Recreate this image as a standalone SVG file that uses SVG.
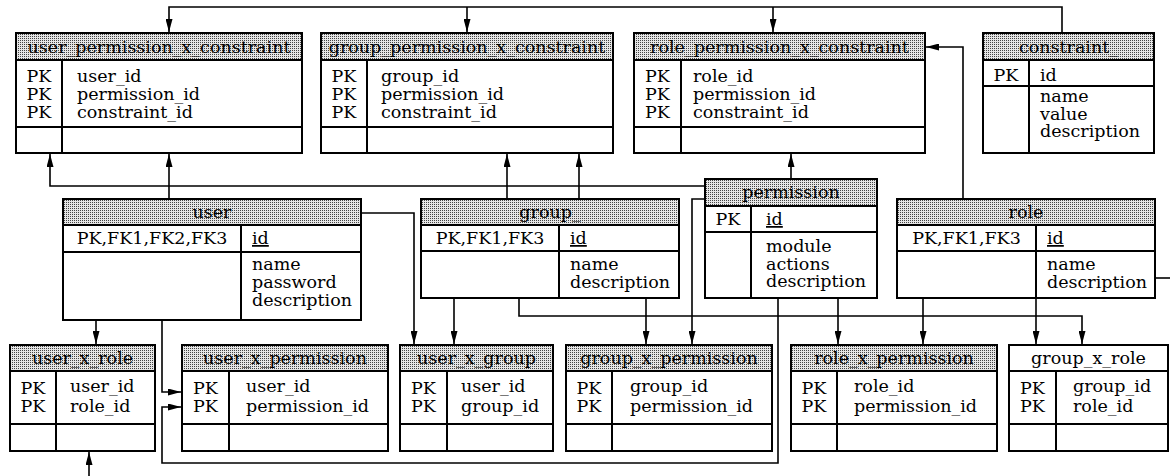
<svg xmlns="http://www.w3.org/2000/svg" width="1170" height="476" viewBox="0 0 1170 476">
<style>
.t{font-family:"DejaVu Serif","Liberation Serif",serif;font-size:17.5px;fill:#000}
.c{text-anchor:middle}
.box{fill:#fff;stroke:#000;stroke-width:2}
.hd{fill:url(#dots);stroke:#000;stroke-width:2}
.ln{stroke:#000;stroke-width:2;fill:none}
.cn{stroke:#000;stroke-width:1.6;fill:none}
.ar{marker-end:url(#ah)}
.u{text-decoration:underline}
</style>
<defs>
<pattern id="dots" width="2" height="2" patternUnits="userSpaceOnUse"><rect width="2" height="2" fill="#e6e6e6"/><rect width="1" height="1" fill="#444"/></pattern>
<marker id="ah" viewBox="0 0 13 7" refX="13" refY="3.5" markerWidth="13" markerHeight="7" markerUnits="userSpaceOnUse" orient="auto"><path d="M0,0L13,3.5L0,7z" fill="#000"/></marker>
</defs>
<rect width="1170" height="476" fill="#fff"/>

<g id="connectors">
<path class="cn ar" d="M1062,33V7H169V32"/>
<path class="cn ar" d="M467,7V32"/>
<path class="cn ar" d="M773,7V32"/>
<path class="cn ar" d="M169,199V154"/>
<path class="cn ar" d="M705,186H50V154"/>
<path class="cn ar" d="M507,199V154"/>
<path class="cn ar" d="M579,199V154"/>
<path class="cn ar" d="M791,179V154"/>
<path class="cn ar" d="M963,199V47H926"/>
<path class="cn ar" d="M96,320V344"/>
<path class="cn ar" d="M162,320V392H181"/>
<path class="cn ar" d="M778,298V463H162V407H181"/>
<path class="cn" d="M1155,278H1170"/>
<path class="cn ar" d="M89,476V452"/>
<path class="cn ar" d="M361,213H414V344"/>
<path class="cn ar" d="M454,298V344"/>
<path class="cn ar" d="M646,298V344"/>
<path class="cn ar" d="M705,199H692V344"/>
<path class="cn ar" d="M519,298V316H1082V344"/>
<path class="cn ar" d="M838,298V344"/>
<path class="cn ar" d="M923,298V344"/>
<path class="cn ar" d="M1036,298V344"/>
</g>

<g id="user_permission_x_constraint">
<rect class="hd" x="16" y="33" width="286" height="27"/>
<rect class="box" x="16" y="60" width="286" height="93"/>
<path class="ln" d="M16,127H302M62,60V153"/>
<text class="t c" x="159" y="53">user_permission_x_constraint</text>
<text class="t c" x="39" y="82"><tspan x="39">PK</tspan><tspan x="39" dy="18">PK</tspan><tspan x="39" dy="18">PK</tspan></text>
<text class="t" x="77" y="82"><tspan x="77">user_id</tspan><tspan x="77" dy="18">permission_id</tspan><tspan x="77" dy="18">constraint_id</tspan></text>
</g>

<g id="group_permission_x_constraint">
<rect class="hd" x="321" y="33" width="292" height="27"/>
<rect class="box" x="321" y="60" width="292" height="93"/>
<path class="ln" d="M321,127H613M367,60V153"/>
<text class="t c" x="467" y="53">group_permission_x_constraint</text>
<text class="t c" x="344" y="82"><tspan x="344">PK</tspan><tspan x="344" dy="18">PK</tspan><tspan x="344" dy="18">PK</tspan></text>
<text class="t" x="381" y="82"><tspan x="381">group_id</tspan><tspan x="381" dy="18">permission_id</tspan><tspan x="381" dy="18">constraint_id</tspan></text>
</g>

<g id="role_permission_x_constraint">
<rect class="hd" x="634" y="33" width="291" height="27"/>
<rect class="box" x="634" y="60" width="291" height="93"/>
<path class="ln" d="M634,127H925M681,60V153"/>
<text class="t c" x="779.5" y="53">role_permission_x_constraint</text>
<text class="t c" x="657.5" y="82"><tspan x="657.5">PK</tspan><tspan x="657.5" dy="18">PK</tspan><tspan x="657.5" dy="18">PK</tspan></text>
<text class="t" x="693" y="82"><tspan x="693">role_id</tspan><tspan x="693" dy="18">permission_id</tspan><tspan x="693" dy="18">constraint_id</tspan></text>
</g>

<g id="constraint_">
<rect class="hd" x="983" y="33" width="171" height="27"/>
<rect class="box" x="983" y="60" width="171" height="93"/>
<path class="ln" d="M983,86H1154M1029,60V153"/>
<text class="t c" x="1068.5" y="53">constraint_</text>
<text class="t c" x="1006" y="81">PK</text>
<text class="t" x="1040" y="81">id</text>
<text class="t" x="1040" y="102"><tspan x="1040">name</tspan><tspan x="1040" dy="17.5">value</tspan><tspan x="1040" dy="17.5">description</tspan></text>
</g>

<g id="user">
<rect class="hd" x="63" y="199" width="298" height="26"/>
<rect class="box" x="63" y="225" width="298" height="95"/>
<path class="ln" d="M63,252H361M241,225V320"/>
<text class="t c" x="212" y="218">user</text>
<text class="t c" x="152" y="244">PK,FK1,FK2,FK3</text>
<text class="t u" x="252" y="244">id</text>
<text class="t" x="252" y="270"><tspan x="252">name</tspan><tspan x="252" dy="18">password</tspan><tspan x="252" dy="18">description</tspan></text>
</g>

<g id="group_">
<rect class="hd" x="421" y="199" width="258" height="26"/>
<rect class="box" x="421" y="225" width="258" height="73"/>
<path class="ln" d="M421,251H679M559,225V298"/>
<text class="t c" x="550" y="218">group_</text>
<text class="t c" x="490" y="244">PK,FK1,FK3</text>
<text class="t u" x="570" y="244">id</text>
<text class="t" x="570" y="270"><tspan x="570">name</tspan><tspan x="570" dy="17.5">description</tspan></text>
</g>

<g id="permission">
<rect class="hd" x="705" y="179" width="172" height="27"/>
<rect class="box" x="705" y="206" width="172" height="92"/>
<path class="ln" d="M705,232H877M751,206V298"/>
<text class="t c" x="791" y="198">permission</text>
<text class="t c" x="728" y="225">PK</text>
<text class="t u" x="766" y="225">id</text>
<text class="t" x="766" y="252"><tspan x="766">module</tspan><tspan x="766" dy="17.5">actions</tspan><tspan x="766" dy="17.5">description</tspan></text>
</g>

<g id="role">
<rect class="hd" x="897" y="199" width="258" height="26"/>
<rect class="box" x="897" y="225" width="258" height="73"/>
<path class="ln" d="M897,251H1155M1036,225V298"/>
<text class="t c" x="1026" y="218">role</text>
<text class="t c" x="966.5" y="244">PK,FK1,FK3</text>
<text class="t u" x="1047" y="244">id</text>
<text class="t" x="1047" y="270"><tspan x="1047">name</tspan><tspan x="1047" dy="17.5">description</tspan></text>
</g>

<g id="user_x_role">
<rect class="hd" x="10" y="345" width="145" height="26"/>
<rect class="box" x="10" y="371" width="145" height="80"/>
<path class="ln" d="M10,424H155M56,371V451"/>
<text class="t c" x="82.5" y="364">user_x_role</text>
<text class="t c" x="33" y="394"><tspan x="33">PK</tspan><tspan x="33" dy="18">PK</tspan></text>
<text class="t" x="70" y="392"><tspan x="70">user_id</tspan><tspan x="70" dy="20">role_id</tspan></text>
</g>

<g id="user_x_permission">
<rect class="hd" x="182" y="345" width="206" height="26"/>
<rect class="box" x="182" y="371" width="206" height="80"/>
<path class="ln" d="M182,424H388M229,371V451"/>
<text class="t c" x="285" y="364">user_x_permission</text>
<text class="t c" x="205.5" y="394"><tspan x="205.5">PK</tspan><tspan x="205.5" dy="18">PK</tspan></text>
<text class="t" x="246" y="392"><tspan x="246">user_id</tspan><tspan x="246" dy="20">permission_id</tspan></text>
</g>

<g id="user_x_group">
<rect class="hd" x="400" y="345" width="153" height="26"/>
<rect class="box" x="400" y="371" width="153" height="80"/>
<path class="ln" d="M400,424H553M447,371V451"/>
<text class="t c" x="476.5" y="364">user_x_group</text>
<text class="t c" x="423.5" y="394"><tspan x="423.5">PK</tspan><tspan x="423.5" dy="18">PK</tspan></text>
<text class="t" x="461" y="392"><tspan x="461">user_id</tspan><tspan x="461" dy="20">group_id</tspan></text>
</g>

<g id="group_x_permission">
<rect class="hd" x="566" y="345" width="206" height="26"/>
<rect class="box" x="566" y="371" width="206" height="80"/>
<path class="ln" d="M566,424H772M612,371V451"/>
<text class="t c" x="669" y="364">group_x_permission</text>
<text class="t c" x="589" y="394"><tspan x="589">PK</tspan><tspan x="589" dy="18">PK</tspan></text>
<text class="t" x="630" y="392"><tspan x="630">group_id</tspan><tspan x="630" dy="20">permission_id</tspan></text>
</g>

<g id="role_x_permission">
<rect class="hd" x="791" y="345" width="206" height="26"/>
<rect class="box" x="791" y="371" width="206" height="80"/>
<path class="ln" d="M791,424H997M837,371V451"/>
<text class="t c" x="894" y="364">role_x_permission</text>
<text class="t c" x="814" y="394"><tspan x="814">PK</tspan><tspan x="814" dy="18">PK</tspan></text>
<text class="t" x="854" y="392"><tspan x="854">role_id</tspan><tspan x="854" dy="20">permission_id</tspan></text>
</g>

<g id="group_x_role">
<rect class="box" x="1009" y="345" width="159" height="26"/>
<rect class="box" x="1009" y="371" width="159" height="80"/>
<path class="ln" d="M1009,424H1168M1056,371V451"/>
<text class="t c" x="1088.5" y="364">group_x_role</text>
<text class="t c" x="1032.5" y="394"><tspan x="1032.5">PK</tspan><tspan x="1032.5" dy="18">PK</tspan></text>
<text class="t" x="1073" y="392"><tspan x="1073">group_id</tspan><tspan x="1073" dy="20">role_id</tspan></text>
</g>
</svg>
